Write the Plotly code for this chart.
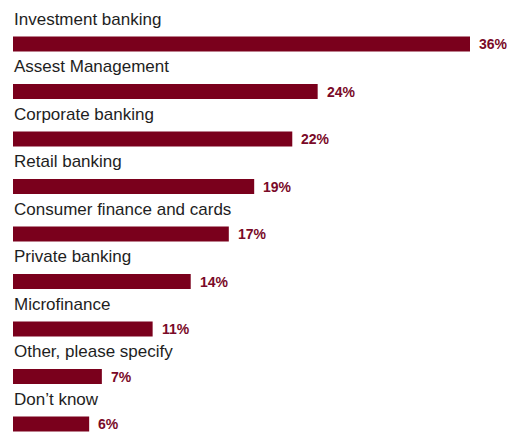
import plotly.graph_objects as go

categories = [
    "Investment banking",
    "Assest Management",
    "Corporate banking",
    "Retail banking",
    "Consumer finance and cards",
    "Private banking",
    "Microfinance",
    "Other, please specify",
    "Don\u2019t know",
]
values = [36, 24, 22, 19, 17, 14, 11, 7, 6]

BAR = "#7a001c"
LABEL_FONT = "Liberation Sans, Arial, sans-serif"

fig = go.Figure(
    go.Bar(
        x=values,
        y=categories,
        orientation="h",
        marker=dict(color=BAR, line=dict(width=0)),
        width=15 / 47.5,
        hoverinfo="skip",
    )
)

annotations = []
for cat, val in zip(categories, values):
    # category name sits above its bar
    annotations.append(dict(
        x=0, y=cat, xref="x", yref="y",
        text=cat, showarrow=False,
        xanchor="left", yanchor="middle",
        yshift=25, xshift=-1,
        font=dict(family=LABEL_FONT, size=17, color="#1e1e1e"),
    ))
    # value label to the right of the bar
    annotations.append(dict(
        x=val, y=cat, xref="x", yref="y",
        text=f"{val}%", showarrow=False,
        xanchor="left", yanchor="middle",
        xshift=7, yshift=0,
        font=dict(family=LABEL_FONT, size=14, color="#7a0a28", weight="bold"),
    ))

px_per_row = 47.5
top_offset = 44
plot_h = 434
y_top = -top_offset / px_per_row
y_bottom = y_top + plot_h / px_per_row

fig.update_layout(
    width=507,
    height=434,
    margin=dict(l=13, r=0, t=0, b=0),
    paper_bgcolor="white",
    plot_bgcolor="white",
    showlegend=False,
    annotations=annotations,
    xaxis=dict(range=[0, 494 / (457 / 36)], visible=False, fixedrange=True),
    yaxis=dict(
        type="category",
        categoryorder="array",
        categoryarray=categories,
        range=[y_bottom, y_top],
        visible=False,
        fixedrange=True,
    ),
)

fig.write_html("out.html", config={"displayModeBar": False})
